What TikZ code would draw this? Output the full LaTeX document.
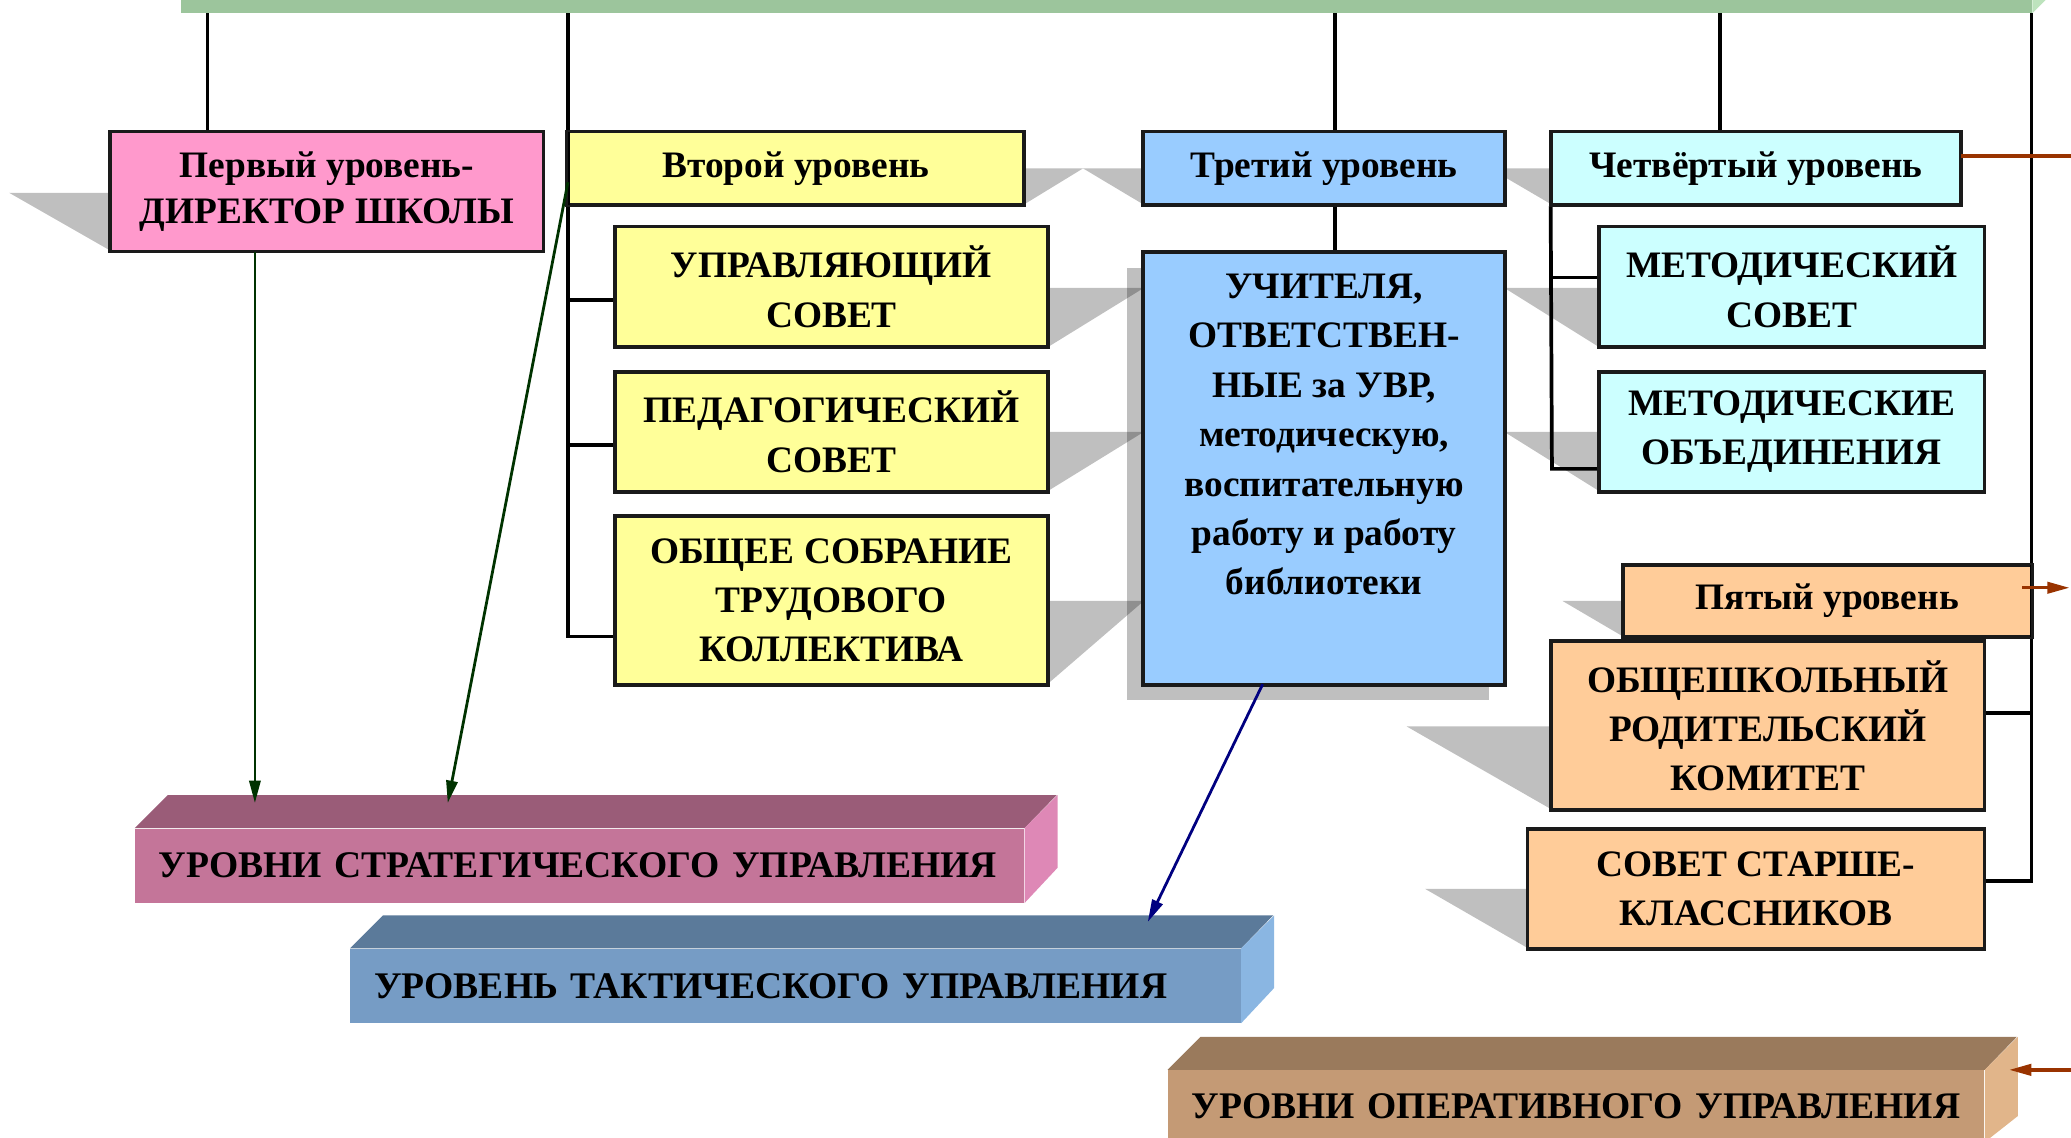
\documentclass[tikz,border=0pt]{standalone}
\usepackage{fontspec}
\setmainfont{Liberation Serif}
\usetikzlibrary{arrows.meta}
\definecolor{pinkF}{HTML}{FF99CC}
\definecolor{yelF}{HTML}{FFFF99}
\definecolor{bluF}{HTML}{99CCFF}
\definecolor{cyaF}{HTML}{CCFFFF}
\definecolor{oraF}{HTML}{FFCC99}
\definecolor{barF}{HTML}{9CC59C}
\definecolor{barS}{HTML}{BDE3BD}
\definecolor{stF}{HTML}{C47599}
\definecolor{stT}{HTML}{9A5C78}
\definecolor{stS}{HTML}{DE88B6}
\definecolor{taF}{HTML}{769CC5}
\definecolor{taT}{HTML}{5B7A9A}
\definecolor{taS}{HTML}{8AB6E2}
\definecolor{opF}{HTML}{C49A75}
\definecolor{opT}{HTML}{9A7A5C}
\definecolor{opS}{HTML}{E1B58A}
\definecolor{brn}{HTML}{993300}
\definecolor{dgreen}{HTML}{003300}
\definecolor{dblue}{HTML}{000080}
\definecolor{boxline}{HTML}{1A1A1A}
\begin{document}
\begin{tikzpicture}[x=0.02cm,y=-0.02cm,
  box/.style={draw=boxline, line width=1.1pt, inner sep=0pt, align=center,
    font=\fontsize{16.1}{21.3}\selectfont\bfseries},
  sz/.style 2 args={minimum width=#1*0.02cm, minimum height=#2*0.02cm},
  txt/.style={inner sep=0pt, align=center, font=\fontsize{16.1}{21.3}\selectfont\bfseries},
  conn/.style={line width=1.6pt, black},
  shd/.style={fill=black, fill opacity=0.25},
  brline/.style={line width=1.5pt, brn},
  tip/.style={-{Triangle[length=0.34cm,width=0.17cm]}},
  garrow/.style={tip, line width=1.2pt, dgreen},
  barrow/.style={tip, line width=1.2pt, dblue},
  threed/.style={inner sep=0pt, anchor=north west, align=left,
    font=\fontsize{16.2}{19}\selectfont\bfseries}
]
\useasboundingbox (0,0) rectangle (1568,861.6);
\clip (0,0) rectangle (1568,861.6);

% shadows
\fill[shd] (7,146) -- (84,146) -- (84,190) -- cycle;
\fill[shd] (775,127.5) -- (820,127.5) -- (775,155) -- cycle;
\fill[shd] (866,127.5) -- (820,127.5) -- (866,155) -- cycle;
\fill[shd] (853,203) rectangle (1127,530);
\fill[shd] (793,218) -- (866,218) -- (793,263) -- cycle;
\fill[shd] (793,327) -- (866,327) -- (793,372) -- cycle;
\fill[shd] (793,455) -- (866,455) -- (793,518) -- cycle;
\fill[shd] (1175,127.5) -- (1128,127.5) -- (1175,155) -- cycle;
\fill[shd] (1211,218) -- (1139,218) -- (1211,263) -- cycle;
\fill[shd] (1211,327) -- (1139,327) -- (1211,372) -- cycle;
\fill[shd] (1229,455) -- (1183,455) -- (1229,482) -- cycle;
\fill[shd] (1175,550) -- (1065,550) -- (1175,613) -- cycle;
\fill[shd] (1157,673) -- (1079,673) -- (1157,718) -- cycle;

% top bar
\node[fill=barF, inner sep=0pt, sz={1401}{60}, anchor=south west] (bar) at (137,10) {};
\fill[barS] (bar.south east) -- ++(13,-13) -- ++(0,-50) -- (bar.north east) -- cycle;

% boxes
\node[box, fill=pinkF, sz={327}{90}] (p1) at (247.5,145) {Первый уровень-\\[-1.4pt]ДИРЕКТОР ШКОЛЫ};
\node[box, fill=yelF, sz={345}{55}] (lvl2) at (602.5,127.5) {Второй уровень};
\node[box, fill=yelF, sz={327}{90}] (upr) at (629.5,217) {УПРАВЛЯЮЩИЙ\\СОВЕТ};
\node[box, fill=yelF, sz={327}{90}] (ped) at (629.5,327) {ПЕДАГОГИЧЕСКИЙ\\СОВЕТ};
\node[box, fill=yelF, sz={327}{127}] (obsh) at (629.5,454.5) {ОБЩЕЕ СОБРАНИЕ\\ТРУДОВОГО\\КОЛЛЕКТИВА};
\node[box, fill=bluF, sz={273}{55}] (lvl3) at (1002.5,127.5) {Третий уровень};
\node[box, fill=bluF, sz={273}{327}] (uch) at (1002.5,354.5) {};
\node[txt, anchor=north] (uchT) at (1002.5,207) {УЧИТЕЛЯ,\\ОТВЕТСТВЕН-\\НЫЕ за УВР,\\методическую,\\воспитательную\\работу и работу\\библиотеки};
\node[box, fill=cyaF, sz={309}{55}] (lvl4) at (1329.5,127.5) {Четвёртый уровень};
\node[box, fill=cyaF, sz={291}{90}] (msov) at (1356.5,217) {МЕТОДИЧЕСКИЙ\\СОВЕТ};
\node[box, fill=cyaF, sz={291}{90}] (mob) at (1356.5,327) {МЕТОДИЧЕСКИЕ\\ОБЪЕДИНЕНИЯ};
\node[box, fill=oraF, sz={309}{54}] (lvl5) at (1383.5,455) {Пятый уровень};
\node[box, fill=oraF, sz={327}{127}] (rod) at (1338.5,549.5) {ОБЩЕШКОЛЬНЫЙ\\РОДИТЕЛЬСКИЙ\\КОМИТЕТ};
\node[box, fill=oraF, sz={345}{90}] (sst) at (1329.5,673) {СОВЕТ СТАРШЕ-\\КЛАССНИКОВ};

% connectors
\coordinate (t1) at (157,10);
\draw[conn] (t1) -- (t1 |- p1.north);
\coordinate (t2) at (430,10);
\coordinate (b2) at (430,482);
\coordinate (j2a) at (430,227);
\coordinate (j2b) at (430,337);
\draw[conn] (t2) -- (b2) -- (b2 -| obsh.west);
\draw[conn] (j2a) -- (j2a -| upr.west);
\draw[conn] (j2b) -- (j2b -| ped.west);
\coordinate (t3) at (1011,10);
\draw[conn] (t3) -- (t3 |- lvl3.north);
\draw[conn] (lvl3.south -| t3) -- (uch.north -| t3);
\coordinate (t4) at (1302,10);
\draw[conn] (t4) -- (t4 |- lvl4.north);
\coordinate (j4a) at (1175,210);
\coordinate (j4b) at (1175,355);
\draw[conn] (lvl4.south west) -- (j4b) -- (j4b -| mob.west);
\draw[conn] (j4a) -- (j4a -| msov.west);
\coordinate (t5) at (1538,10);
\coordinate (j5a) at (1538,540);
\coordinate (j5b) at (1538,667);
\draw[conn] (t5) -- (j5b) -- (j5b -| sst.east);
\draw[conn] (j5a) -- (j5a -| rod.east);

% redraw box borders over lines
\foreach \n in {p1,lvl2,lvl3,lvl4,lvl5,upr,ped,obsh,uch,msov,mob,rod,sst}
  \draw[draw=boxline, line width=1.1pt] (\n.north west) rectangle (\n.south east);

% 3D level bars
\node[threed, fill=stF, sz={673}{56}, text width=637*0.02cm] (strat) at (102,627) {УРОВНИ СТРАТЕГИЧЕСКОГО УПРАВЛЕНИЯ};
\fill[stT] (strat.north west) -- ++(25,-25) -- ++(673,0) -- (strat.north east) -- cycle;
\fill[stS] (strat.north east) -- ++(25,-25) -- ++(0,55) -- (strat.south east) -- cycle;

\node[threed, fill=taF, sz={674}{56}, text width=638*0.02cm] (tact) at (265,718) {УРОВЕНЬ ТАКТИЧЕСКОГО УПРАВЛЕНИЯ};
\fill[taT] (tact.north west) -- ++(25,-25) -- ++(674,0) -- (tact.north east) -- cycle;
\fill[taS] (tact.north east) -- ++(25,-25) -- ++(0,55) -- (tact.south east) -- cycle;

\node[threed, fill=opF, sz={618}{54}, text width=582*0.02cm] (oper) at (884,810) {УРОВНИ ОПЕРАТИВНОГО УПРАВЛЕНИЯ};
\fill[opT] (oper.north west) -- ++(25,-25) -- ++(618,0) -- (oper.north east) -- cycle;
\fill[opS] (oper.north east) -- ++(25,-25) -- ++(0,60) -- (oper.south east) -- cycle;

% brown connectors
\coordinate (e1) at (1570,118);
\draw[brline] (e1 -| lvl4.east) -- (e1);
\coordinate (s2) at (1531,445);
\coordinate (e2) at (1567,445);
\draw[brline, tip] (s2) -- (e2);
\coordinate (s3) at (1575,810);
\coordinate (e3) at (1521,810);
\draw[brline, tip] (s3) -- (e3);

% arrows to level bars
\coordinate (g1e) at (193,608);
\draw[garrow] (g1e |- p1.south) -- (g1e);
\coordinate (g2s) at (430,138);
\coordinate (g2e) at (339,608);
\draw[garrow] (g2s) -- (g2e);
\coordinate (bs) at (956,518);
\coordinate (be) at (869,698);
\draw[barrow] (bs) -- (be);
\end{tikzpicture}
\end{document}
